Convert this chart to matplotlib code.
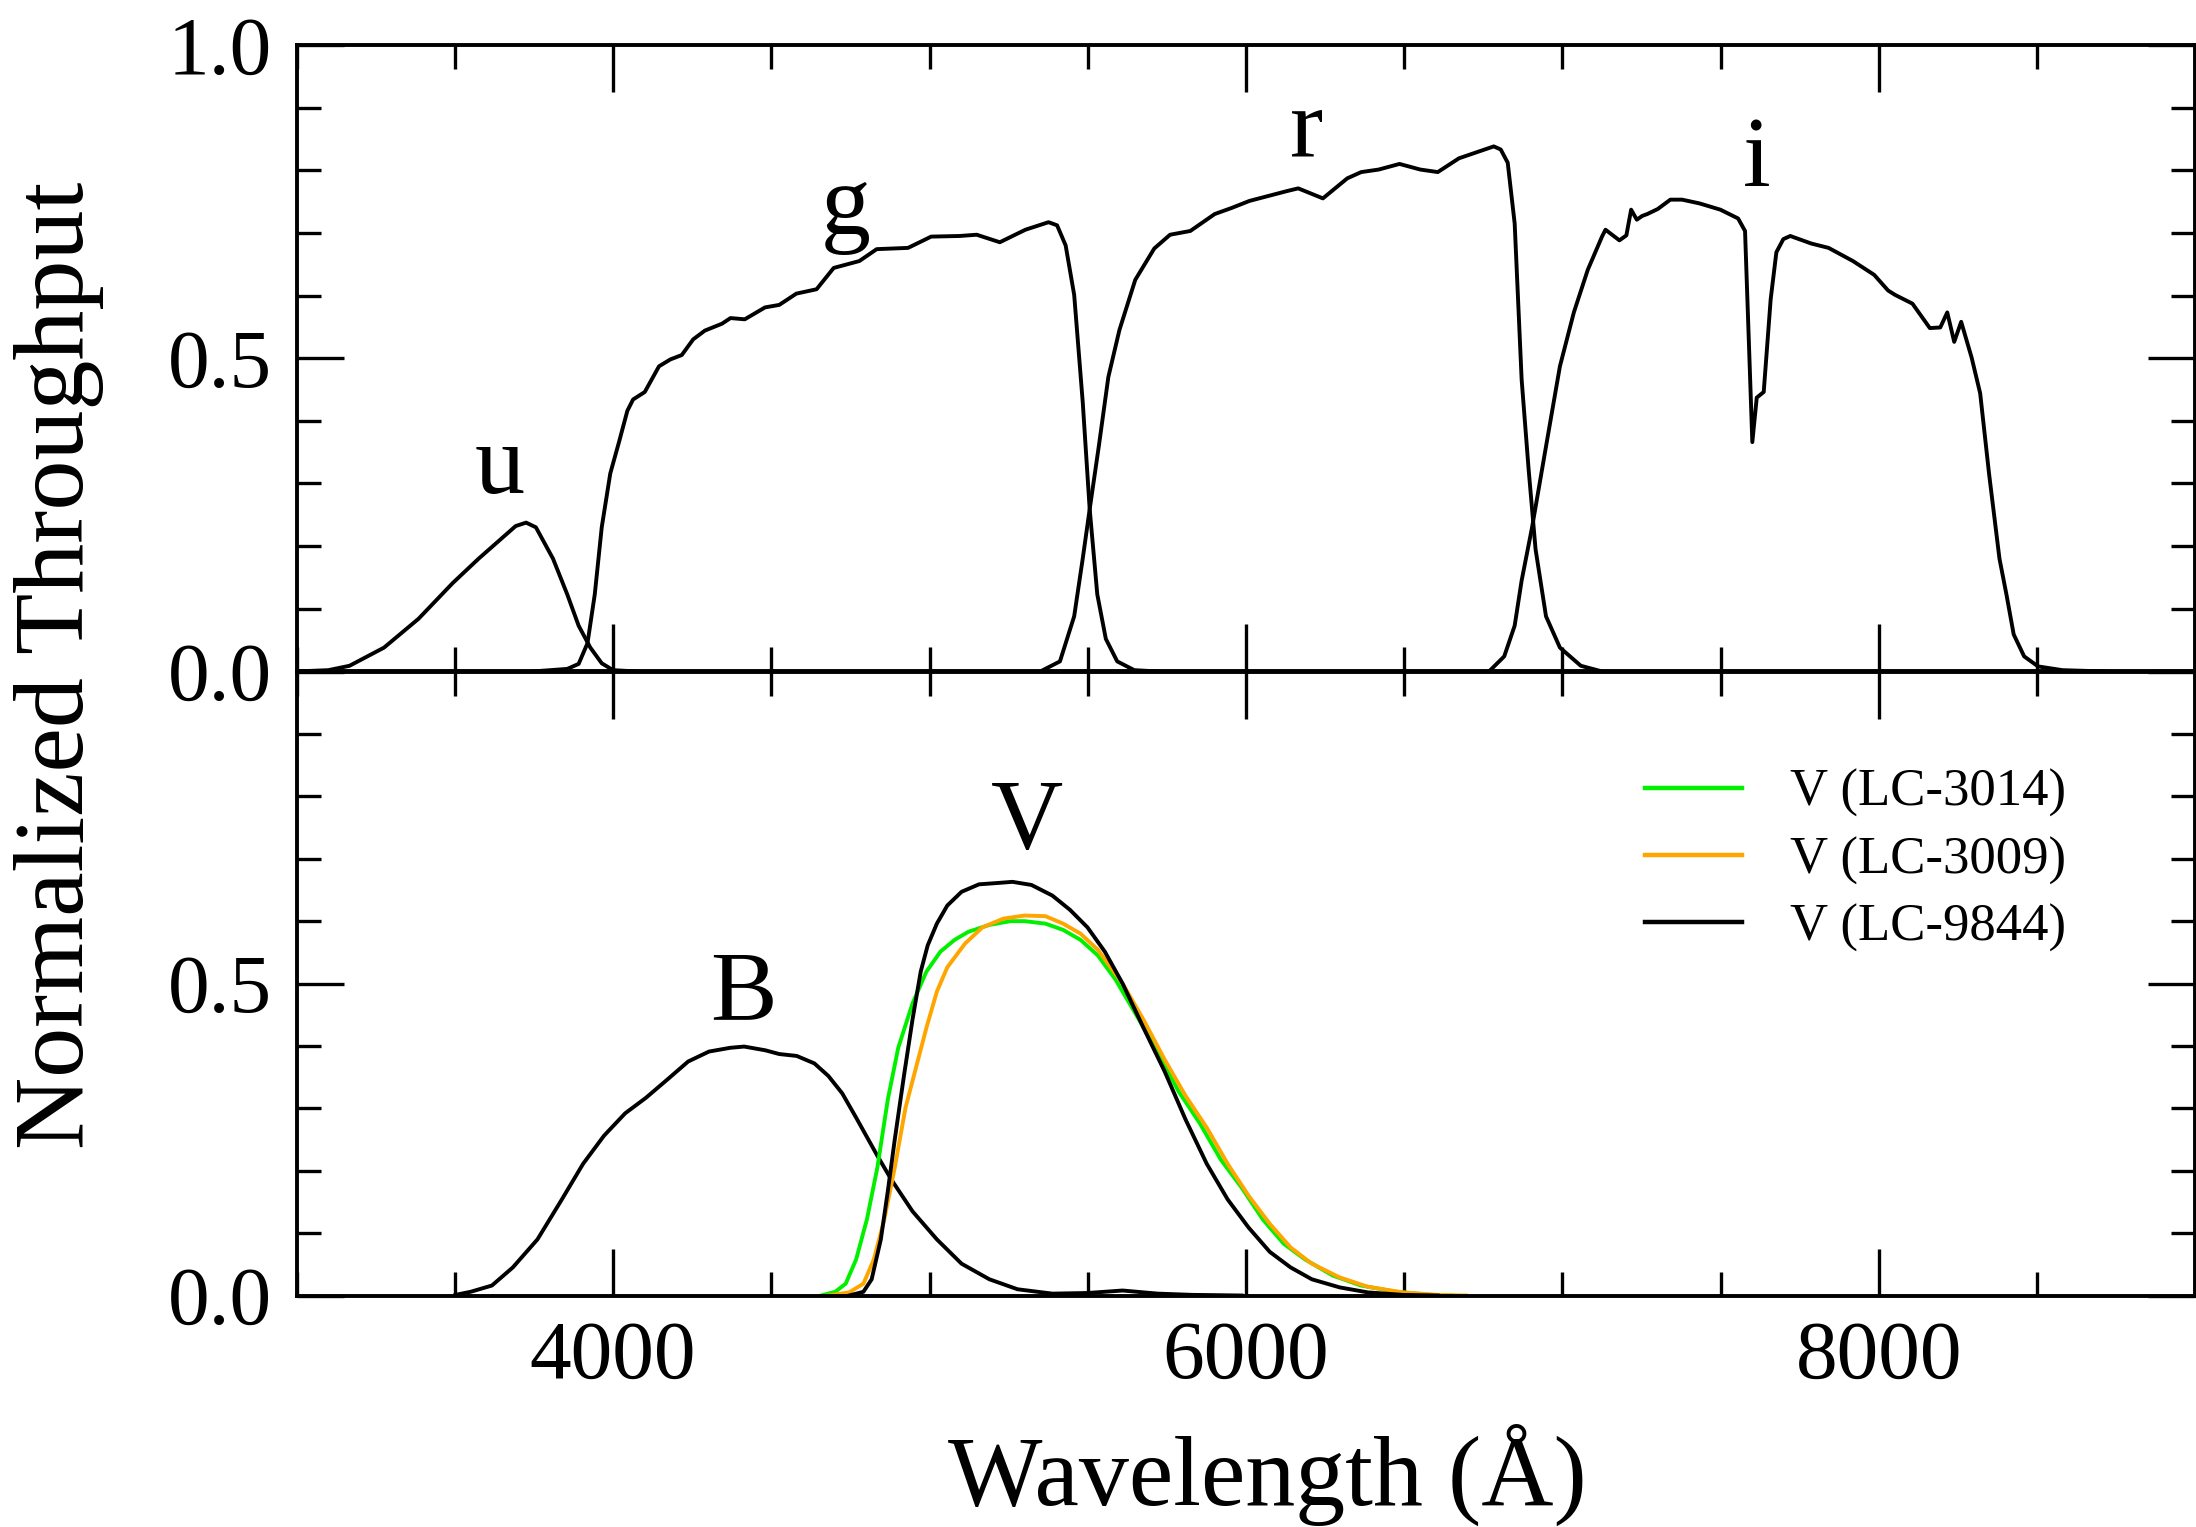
import matplotlib
matplotlib.use("Agg")
import matplotlib.pyplot as plt
from matplotlib.ticker import MultipleLocator, FixedLocator, FixedFormatter

plt.rcParams["font.family"] = ["Liberation Serif", "DejaVu Serif"]

# SDSS-like ugri throughputs (top panel)
u_wave = [3000, 3100, 3167, 3276, 3385, 3493, 3575, 3656, 3692, 3725, 3756, 3810,
          3855, 3891, 3928, 3964, 4000, 4072]
u_thru = [0.0, 0.002, 0.009, 0.038, 0.084, 0.141, 0.180, 0.216, 0.232, 0.2375, 0.230, 0.180,
          0.123, 0.073, 0.038, 0.013, 0.002, 0.0]

g_wave = [3747, 3855, 3891, 3919, 3942, 3964, 3991, 4018, 4045, 4063, 4100, 4145, 4181,
          4217, 4253, 4290, 4344, 4371, 4416, 4480, 4525, 4579, 4643, 4697, 4778, 4833,
          4932, 5005, 5095, 5149, 5222, 5303, 5376, 5403, 5430, 5457, 5484, 5506, 5530,
          5557, 5593, 5647, 5720]
g_thru = [0.0, 0.004, 0.012, 0.045, 0.123, 0.230, 0.316, 0.365, 0.416, 0.434, 0.446, 0.487, 0.498,
          0.505, 0.530, 0.544, 0.555, 0.564, 0.562, 0.581, 0.585, 0.603, 0.610, 0.644, 0.655, 0.674,
          0.676, 0.694, 0.695, 0.697, 0.685, 0.705, 0.717, 0.712, 0.680, 0.601, 0.430, 0.259, 0.123,
          0.052, 0.016, 0.002, 0.0]

r_wave = [5358, 5412, 5457, 5484, 5506, 5535, 5565, 5600, 5650, 5710, 5760, 5824, 5901,
          5956, 6011, 6132, 6165, 6243, 6320, 6364, 6419, 6485, 6551, 6606, 6673, 6783,
          6805, 6827, 6849, 6871, 6893, 6915, 6948, 6992, 7058, 7125]
r_thru = [0.002, 0.016, 0.088, 0.180, 0.259, 0.360, 0.470, 0.545, 0.625, 0.675, 0.697, 0.703, 0.730,
          0.740, 0.751, 0.767, 0.771, 0.755, 0.787, 0.797, 0.801, 0.810, 0.801, 0.797, 0.819, 0.838,
          0.833, 0.812, 0.715, 0.466, 0.323, 0.195, 0.088, 0.038, 0.009, 0.0]

i_wave = [6772, 6816, 6849, 6871, 6904, 6948, 6992, 7036, 7080, 7125, 7136, 7180, 7202,
          7217, 7235, 7252, 7268, 7301, 7341, 7378, 7433, 7499, 7555, 7577, 7600, 7614,
          7636, 7658, 7676, 7698, 7720, 7786, 7841, 7918, 7985, 8029, 8051, 8106, 8161,
          8194, 8216, 8238, 8260, 8293, 8320, 8348, 8381, 8403, 8426, 8459, 8503, 8580, 8712]
i_thru = [0.002, 0.024, 0.073, 0.145, 0.230, 0.359, 0.487, 0.573, 0.641, 0.694, 0.705, 0.688, 0.696,
          0.737, 0.721, 0.727, 0.730, 0.738, 0.753, 0.753, 0.747, 0.737, 0.723, 0.703, 0.366, 0.437,
          0.446, 0.594, 0.669, 0.690, 0.695, 0.683, 0.676, 0.655, 0.633, 0.608, 0.601, 0.587, 0.548,
          0.549, 0.573, 0.526, 0.558, 0.501, 0.444, 0.316, 0.180, 0.123, 0.059, 0.024, 0.008, 0.002, 0.0]

# Johnson B and three V filters (bottom panel)
b_wave = [3502, 3550, 3617, 3683, 3761, 3838, 3905, 3971, 4038, 4104, 4171, 4237, 4303,
          4370, 4414, 4481, 4525, 4580, 4636, 4680, 4724, 4768, 4835, 4879, 4946, 5023,
          5101, 5189, 5278, 5388, 5499, 5610, 5721, 5831, 5986]
b_thru = [0.001, 0.006, 0.016, 0.045, 0.090, 0.154, 0.211, 0.256, 0.292, 0.317, 0.346, 0.375, 0.391,
          0.397, 0.399, 0.393, 0.387, 0.384, 0.372, 0.352, 0.324, 0.285, 0.224, 0.186, 0.135, 0.090,
          0.051, 0.026, 0.010, 0.003, 0.004, 0.008, 0.003, 0.001, 0.0]

v9844_wave = [4746, 4791, 4817, 4846, 4868, 4890, 4919, 4946, 4972, 4994, 5023, 5056, 5101,
              5156, 5211, 5262, 5322, 5388, 5444, 5499, 5554, 5610, 5676, 5743, 5809, 5876,
              5942, 6008, 6075, 6141, 6208, 6296, 6385, 6496, 6606]
v9844_thru = [0.0, 0.006, 0.026, 0.090, 0.167, 0.250, 0.352, 0.442, 0.519, 0.561, 0.596, 0.625, 0.647,
              0.659, 0.661, 0.663, 0.658, 0.641, 0.618, 0.590, 0.551, 0.500, 0.429, 0.359, 0.282, 0.211,
              0.154, 0.109, 0.070, 0.045, 0.026, 0.013, 0.005, 0.001, 0.0]

v3014_wave = [4657, 4702, 4735, 4768, 4802, 4835, 4868, 4901, 4946, 4990, 5034, 5079, 5123,
              5189, 5256, 5300, 5366, 5422, 5477, 5532, 5588, 5654, 5721, 5787, 5854, 5920,
              5986, 6053, 6119, 6186, 6274, 6363, 6474, 6584, 6651]
v3014_thru = [0.0, 0.006, 0.019, 0.058, 0.122, 0.205, 0.314, 0.397, 0.468, 0.519, 0.551, 0.570, 0.583,
              0.594, 0.600, 0.600, 0.596, 0.586, 0.570, 0.545, 0.506, 0.449, 0.391, 0.327, 0.276, 0.218,
              0.173, 0.122, 0.083, 0.058, 0.032, 0.016, 0.006, 0.001, 0.0]

v3009_wave = [4680, 4746, 4791, 4824, 4857, 4890, 4924, 4957, 4990, 5023, 5056, 5112, 5167,
              5233, 5300, 5366, 5422, 5477, 5532, 5610, 5676, 5743, 5809, 5876, 5942, 6008,
              6075, 6141, 6208, 6296, 6385, 6496, 6606, 6695]
v3009_thru = [0.0, 0.005, 0.019, 0.058, 0.122, 0.205, 0.301, 0.365, 0.429, 0.487, 0.526, 0.564, 0.590,
              0.604, 0.609, 0.608, 0.596, 0.580, 0.554, 0.500, 0.442, 0.378, 0.320, 0.269, 0.211, 0.160,
              0.115, 0.077, 0.051, 0.029, 0.014, 0.005, 0.001, 0.0]

top_labels = ["u", "g", "r", "i"]
top_label_pos = [(3642, 0.323), (4735, 0.736), (6190, 0.860), (7614, 0.815)]
bottom_labels = ["B", "V"]
bottom_label_pos = [(4412, 0.482), (5307, 0.756)]

legend_names = ["V (LC-3014)", "V (LC-3009)", "V (LC-9844)"]
legend_colors = ["#00f000", "#ffa500", "black"]

LW = 2.8
fig = plt.figure(figsize=(21.96, 15.27), dpi=100)
ax_top = fig.add_axes([0.1351, 0.5603, 0.8646, 0.4103])
ax_bot = fig.add_axes([0.1351, 0.1516, 0.8646, 0.4086], sharex=ax_top)

for ax in (ax_top, ax_bot):
    ax.set_xlim(3000, 9000)
    ax.set_ylim(0, 1.0)
    ax.xaxis.set_major_locator(MultipleLocator(2000))
    ax.xaxis.set_minor_locator(MultipleLocator(500))
    ax.yaxis.set_minor_locator(MultipleLocator(0.1))
    ax.tick_params(which="both", direction="in", top=True, right=True, width=2.4,
                   labelsize=60, pad=18)
    ax.tick_params(which="major", length=34)
    ax.tick_params(which="minor", length=17)
    for sp in ax.spines.values():
        sp.set_linewidth(2.8)

ax_top.yaxis.set_major_locator(FixedLocator([0.0, 0.5, 1.0]))
ax_top.yaxis.set_major_formatter(FixedFormatter(["0.0", "0.5", "1.0"]))
ax_bot.yaxis.set_major_locator(FixedLocator([0.0, 0.5, 1.0]))
ax_bot.yaxis.set_major_formatter(FixedFormatter(["0.0", "0.5", ""]))
ax_top.tick_params(axis="x", labelbottom=False)

for w, t in [(u_wave, u_thru), (g_wave, g_thru), (r_wave, r_thru), (i_wave, i_thru)]:
    ax_top.plot(w, t, color="black", lw=LW)
for name, (x, y) in zip(top_labels, top_label_pos):
    ax_top.text(x, y, name, fontsize=72, ha="center", va="center")

ax_bot.plot(b_wave, b_thru, color="black", lw=LW)
h1, = ax_bot.plot(v3014_wave, v3014_thru, color=legend_colors[0], lw=LW)
h2, = ax_bot.plot(v3009_wave, v3009_thru, color=legend_colors[1], lw=LW)
h3, = ax_bot.plot(v9844_wave, v9844_thru, color=legend_colors[2], lw=LW)
for name, (x, y) in zip(bottom_labels, bottom_label_pos):
    ax_bot.text(x, y, name, fontsize=72, ha="center", va="center")

leg = ax_bot.legend([h1, h2, h3], legend_names, fontsize=38, frameon=False,
                    loc="upper left", bbox_to_anchor=(1645 / 2196, 1 - 769 / 1527),
                    bbox_transform=fig.transFigure, borderpad=0, borderaxespad=0,
                    handlelength=1.84, handletextpad=0.9, labelspacing=0.36)
for line in leg.get_lines():
    line.set_linewidth(3.2)

fig.text(59 / 2196, 1 - 665 / 1527, "Normalized Throughput", rotation=90,
         fontsize=72, ha="center", va="center")
fig.text(1267 / 2196, 1 - 1505 / 1527, "Wavelength (Å)", fontsize=72,
         ha="center", va="baseline")

fig.savefig("out.png", dpi=100)
